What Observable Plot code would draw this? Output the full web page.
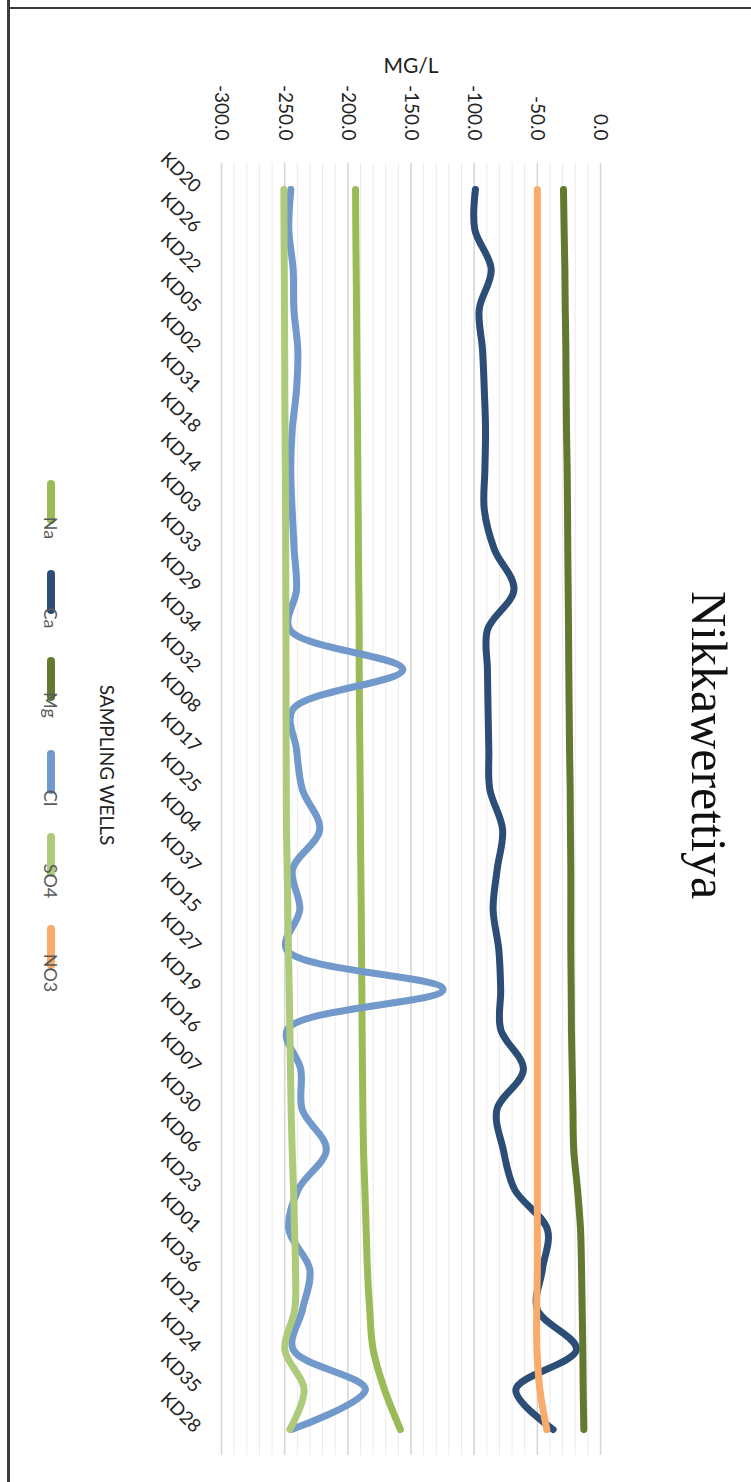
<!DOCTYPE html>
<html>
<head>
<meta charset="utf-8">
<script src="https://cdn.jsdelivr.net/npm/d3@7"></script>
<script src="https://cdn.jsdelivr.net/npm/@observablehq/plot@0.6"></script>
<style>
html,body{margin:0;padding:0;background:#fff;}
body{width:751px;height:1482px;position:relative;overflow:hidden;font-family:Lato,sans-serif;}
#rot{position:absolute;left:0;top:0;width:1482px;height:751px;transform-origin:0 0;transform:translate(751px,0) rotate(90deg);}
#frameL{position:absolute;left:7px;top:0;width:3px;height:1482px;background:#3c3c3c;}
#frameT{position:absolute;left:7px;top:7px;width:744px;height:2px;background:#3c3c3c;}
</style>
</head>
<body>
<div id="rot"></div>
<div id="frameL"></div>
<div id="frameT"></div>
<script>
const wells = ["KD20","KD26","KD22","KD05","KD02","KD31","KD18","KD14","KD03","KD33","KD29","KD34","KD32","KD08","KD17","KD25","KD04","KD37","KD15","KD27","KD19","KD16","KD07","KD30","KD06","KD23","KD01","KD36","KD21","KD24","KD35","KD28"];
const na  = [-193.9,-193.7,-193.4,-193.1,-192.9,-192.6,-192.3,-192.1,-191.8,-191.6,-191.3,-191.0,-191.0,-190.8,-190.5,-190.2,-190.0,-189.7,-189.4,-189.2,-188.9,-188.7,-188.4,-188.1,-187.6,-186.5,-185.5,-184.5,-182.7,-180.0,-171.0,-158.4];
const ca  = [-99,-99.5,-86.5,-96,-93.4,-92,-91,-91.5,-92,-84,-68.5,-89.4,-89.5,-89,-88.4,-87.6,-77.5,-81.8,-85,-80.5,-79,-79,-61,-82,-77,-68,-42,-46,-50,-19,-67,-37.5];
const mg  = [-29.3,-28.8,-28.2,-27.9,-27.4,-27.2,-26.9,-26.4,-26.1,-25.9,-25.6,-25.3,-25.1,-24.8,-24.5,-24.0,-23.8,-23.5,-23.5,-23.5,-23.2,-23.0,-22.4,-21.8,-21.2,-18.2,-15.8,-15.0,-14.5,-14.0,-13.7,-13.2];
const cl  = [-245.1,-246.7,-243.3,-242.7,-239.6,-240.6,-244.0,-245.2,-244.1,-242.5,-240.6,-246.0,-156.5,-243.6,-240.6,-236.0,-222.2,-243.8,-238.0,-248.5,-124.6,-247.8,-237.2,-236.1,-217.0,-239.3,-246.7,-230.1,-235.9,-243.3,-186.0,-244.6];
const so4 = [-250.6,-250.5,-250.3,-250.2,-250.0,-249.9,-249.7,-249.5,-249.3,-249.2,-249.1,-249.0,-248.9,-248.9,-248.8,-248.7,-248.6,-248.0,-247.5,-247.0,-246.4,-245.9,-245.4,-244.9,-244.1,-243.0,-242.2,-241.4,-242.0,-249.9,-234.6,-245.9];
const no3 = [-50,-50,-50,-50,-50,-50,-50,-50,-50,-50,-50,-50,-50,-50,-50,-50,-50,-50,-50,-50,-50,-50,-50,-50,-50,-50,-50,-50,-50.5,-50.3,-48.0,-42.5];

const seriesNames  = ["Na","Ca","Mg","Cl","SO4","NO3"];
const seriesValues = [na, ca, mg, cl, so4, no3];
const seriesColors = ["#9BBB59","#2C4D75","#617A30","#7299CB","#AECB7B","#F9AB6B"];
const yTicks = [-300,-250,-200,-150,-100,-50,0];
const titleText = "Nikkawerettiya";
const yTitle = "MG/L";
const xTitle = "SAMPLING WELLS";

const data = seriesNames.flatMap((s, k) => wells.map((w, i) => ({well: w, ion: s, value: seriesValues[k][i]})));

const W = 1482, H = 751;
const svg = Plot.plot({
  width: W, height: H,
  marginLeft: 163, marginRight: 27, marginTop: 150, marginBottom: 222,
  style: {fontFamily: "Lato, sans-serif", background: "transparent", overflow: "visible"},
  x: {type: "point", domain: wells, padding: 0.5, axis: null},
  y: {domain: [-300, 0], axis: null},
  color: {domain: seriesNames, range: seriesColors},
  marks: [
    Plot.gridY({ticks: 30, stroke: "#EBEBEB", strokeOpacity: 1, strokeWidth: 1}),
    Plot.gridY(yTicks, {stroke: "#D6D6D6", strokeOpacity: 1, strokeWidth: 1.5}),
    Plot.axisY({ticks: yTicks, tickFormat: d => d.toFixed(1), tickSize: 0, tickPadding: 23, fontSize: 19, fill: "#222", label: null}),
    Plot.text(wells, {x: d => d, frameAnchor: "bottom", dy: 24, rotate: -45, textAnchor: "end", lineAnchor: "middle", fontSize: 18.5, fill: "#222"}),
    Plot.line(data, {x: "well", y: "value", z: "ion", stroke: "ion", strokeWidth: 7, curve: "catmull-rom", strokeLinecap: "round", strokeLinejoin: "round"})
  ]
});
document.getElementById("rot").appendChild(svg);

const s = d3.select(svg);
s.append("text").attr("x", 745).attr("y", 59).attr("text-anchor", "middle")
  .attr("font-family", "'Liberation Serif', serif").attr("font-size", 50).attr("fill", "#111").text(titleText);
s.append("text").attr("transform", "translate(73,340) rotate(-90)").attr("text-anchor", "middle")
  .attr("font-family", "Lato, sans-serif").attr("font-size", 21).attr("fill", "#222").text(yTitle);
s.append("text").attr("x", 765).attr("y", 651).attr("text-anchor", "middle")
  .attr("font-family", "Lato, sans-serif").attr("font-size", 19).attr("fill", "#222").text(xTitle);

// legend (line swatches)
const legendStarts = [480, 570, 657, 750, 833, 925];
const lg = s.append("g");
seriesNames.forEach((name, k) => {
  const x0 = legendStarts[k];
  lg.append("line").attr("x1", x0 + 4).attr("x2", x0 + 40).attr("y1", 700).attr("y2", 700)
    .attr("stroke", seriesColors[k]).attr("stroke-width", 8).attr("stroke-linecap", "round");
  lg.append("text").attr("x", x0 + 48).attr("y", 707).attr("font-family", "Lato, sans-serif")
    .attr("font-size", 18).attr("fill", "#595959").text(name);
});
</script>
</body>
</html>
